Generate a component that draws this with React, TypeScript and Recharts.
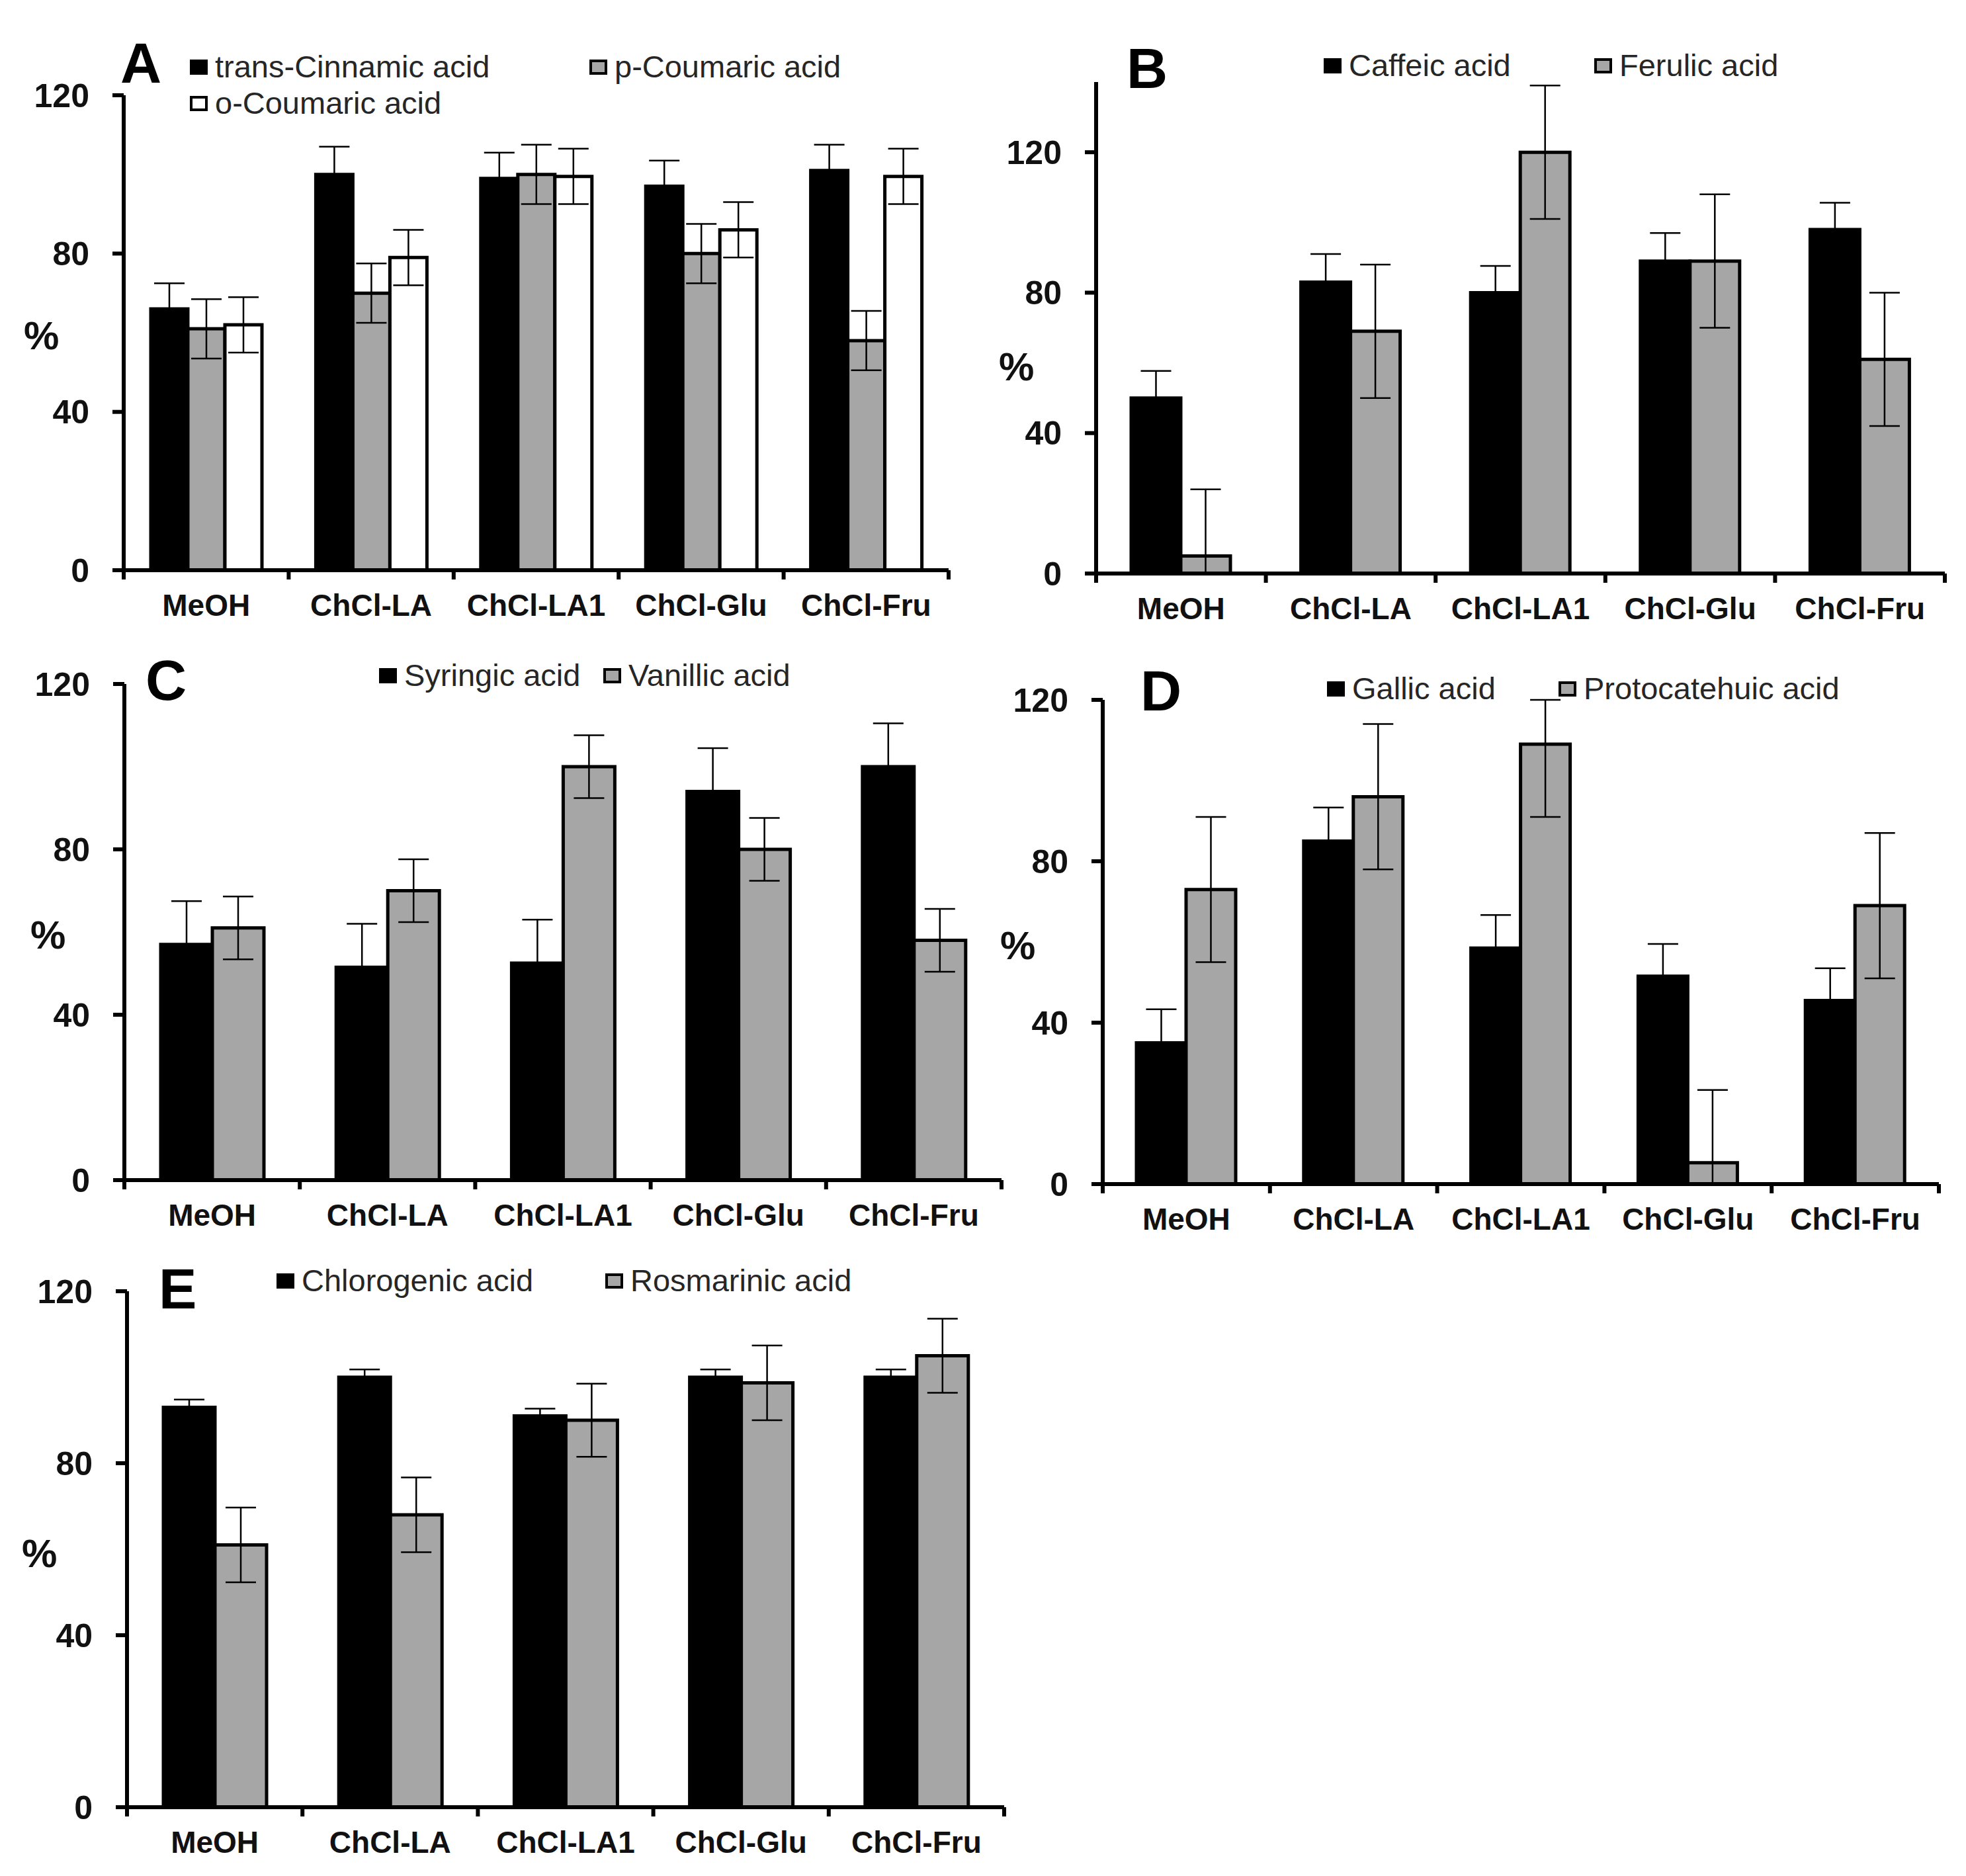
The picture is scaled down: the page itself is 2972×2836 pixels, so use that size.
import React from "react";
import { BarChart, Bar, XAxis, YAxis, ErrorBar, Legend } from "recharts";

const FONT = '"Liberation Sans", Arial, Helvetica, sans-serif';
const BLACK = "#000000";
const GREY = "#a6a6a6";
const WHITE = "#ffffff";

const categories = ["MeOH", "ChCl-LA", "ChCl-LA1", "ChCl-Glu", "ChCl-Fru"];
const yTicks = [0, 40, 80, 120];

// A
const transCinnamic = [66, 100, 99, 97, 101];
const transCinnamicErr = [6.5, 7, 6.5, 6.5, 6.5];
const pCoumaric = [61, 70, 100, 80, 58];
const pCoumaricErr = [7.5, 7.5, 7.5, 7.5, 7.5];
const oCoumaric = [62, 79, 99.5, 86, 99.5];
const oCoumaricErr = [7, 7, 7, 7, 7];

// B
const caffeic = [50, 83, 80, 89, 98];
const caffeicErr = [7.7, 8, 7.6, 8, 7.6];
const ferulic = [5, 69, 120, 89, 61];
const ferulicErr = [19, 19, 19, 19, 19];

// C
const syringic = [57, 51.5, 52.5, 94, 100];
const syringicErr = [10.5, 10.5, 10.5, 10.5, 10.5];
const vanillic = [61, 70, 100, 80, 58];
const vanillicErr = [7.6, 7.6, 7.6, 7.6, 7.6];

// D
const gallic = [35, 85, 58.5, 51.5, 45.5];
const gallicErr = [8.3, 8.3, 8.2, 8, 8];
const protocatechuic = [73, 96, 109, 5.3, 69];
const protocatechuicErr = [18, 18, 18, 18, 18];

// E
const chlorogenic = [93, 100, 91, 100, 100];
const chlorogenicErr = [1.8, 1.8, 1.7, 1.8, 1.8];
const rosmarinic = [61, 68, 90, 98.7, 105];
const rosmarinicErr = [8.7, 8.7, 8.5, 8.7, 8.6];

type Series = { name: string; values: number[]; errors: number[]; fill: string };
type Panel = {
  letter: string;
  series: Series[];
  yMax: number;
  box: { left: number; top: number; width: number; height: number };
  plot: { left: number; top: number; right: number; bottom: number };
  barSize: number;
  letterAt: [number, number];
  legendAt: [number, number][];
  percentAt: [number, number];
};

const X_AXIS_H = 60;
const AXIS_W = 6;

const panels: Panel[] = [
  {
    letter: "A",
    series: [
      { name: "trans-Cinnamic acid", values: transCinnamic, errors: transCinnamicErr, fill: BLACK },
      { name: "p-Coumaric acid", values: pCoumaric, errors: pCoumaricErr, fill: GREY },
      { name: "o-Coumaric acid", values: oCoumaric, errors: oCoumaricErr, fill: WHITE },
    ],
    yMax: 120,
    box: { left: 0, top: 0, width: 1470, height: 960 },
    plot: { left: 187, top: 144, right: 1434, bottom: 862 },
    barSize: 56,
    letterAt: [182, 52],
    legendAt: [[287, 78], [891, 78], [287, 133]],
    percentAt: [36, 506],
  },
  {
    letter: "B",
    series: [
      { name: "Caffeic acid", values: caffeic, errors: caffeicErr, fill: BLACK },
      { name: "Ferulic acid", values: ferulic, errors: ferulicErr, fill: GREY },
    ],
    yMax: 140,
    box: { left: 1480, top: 0, width: 1492, height: 960 },
    plot: { left: 1657, top: 124, right: 2940, bottom: 867 },
    barSize: 75,
    letterAt: [1703, 60],
    legendAt: [[2001, 76], [2410, 76]],
    percentAt: [1510, 553],
  },
  {
    letter: "C",
    series: [
      { name: "Syringic acid", values: syringic, errors: syringicErr, fill: BLACK },
      { name: "Vanillic acid", values: vanillic, errors: vanillicErr, fill: GREY },
    ],
    yMax: 120,
    box: { left: 0, top: 940, width: 1560, height: 950 },
    plot: { left: 188, top: 1034, right: 1514, bottom: 1784 },
    barSize: 78,
    letterAt: [220, 985],
    legendAt: [[573, 998], [912, 998]],
    percentAt: [46, 1412],
  },
  {
    letter: "D",
    series: [
      { name: "Gallic acid", values: gallic, errors: gallicErr, fill: BLACK },
      { name: "Protocatehuic acid", values: protocatechuic, errors: protocatechuicErr, fill: GREY },
    ],
    yMax: 120,
    box: { left: 1480, top: 940, width: 1492, height: 950 },
    plot: { left: 1667, top: 1058, right: 2931, bottom: 1790 },
    barSize: 75,
    letterAt: [1724, 1001],
    legendAt: [[2006, 1018], [2356, 1018]],
    percentAt: [1512, 1428],
  },
  {
    letter: "E",
    series: [
      { name: "Chlorogenic acid", values: chlorogenic, errors: chlorogenicErr, fill: BLACK },
      { name: "Rosmarinic acid", values: rosmarinic, errors: rosmarinicErr, fill: GREY },
    ],
    yMax: 120,
    box: { left: 0, top: 1860, width: 1560, height: 976 },
    plot: { left: 192, top: 1952, right: 1518, bottom: 2732 },
    barSize: 78,
    letterAt: [240, 1905],
    legendAt: [[418, 1913], [915, 1913]],
    percentAt: [33, 2347],
  },
];

function CategoryTick(props: any) {
  const { x, y, payload, index, visibleTicksCount } = props;
  const half = payload?.offset ?? 0;
  return (
    <g>
      <line x1={x - half} x2={x - half} y1={y} y2={y + 14} stroke="#000" strokeWidth={AXIS_W} />
      {index === visibleTicksCount - 1 ? (
        <line x1={x + half} x2={x + half} y1={y} y2={y + 14} stroke="#000" strokeWidth={AXIS_W} />
      ) : null}
      <text
        x={x}
        y={y + 36}
        dy="0.71em"
        textAnchor="middle"
        fontFamily={FONT}
        fontSize={46}
        fontWeight={700}
        fill="#111"
      >
        {payload.value}
      </text>
    </g>
  );
}

function PanelChart({ panel }: { panel: Panel }) {
  const { box, plot, series, yMax } = panel;
  // error whiskers are cut at the axis range, as the plot area clips them in the original
  const rows = categories.map((name, i) => {
    const row: Record<string, any> = { name };
    series.forEach((s, j) => {
      const v = s.values[i];
      const e = s.errors[i];
      row[`v${j}`] = v;
      row[`e${j}`] = [Math.min(e, v), Math.min(e, yMax - v)];
    });
    return row;
  });

  const legendContent = () => (
    <div style={{ position: "relative", width: box.width, height: box.height, fontFamily: FONT }}>
      <div
        style={{
          position: "absolute",
          left: panel.letterAt[0] - box.left,
          top: panel.letterAt[1] - box.top,
          fontSize: 86,
          fontWeight: 700,
          lineHeight: 1,
          color: "#000",
        }}
      >
        {panel.letter}
      </div>
      {series.map((s, i) => (
        <div
          key={s.name}
          style={{
            position: "absolute",
            left: panel.legendAt[i][0] - box.left,
            top: panel.legendAt[i][1] - box.top,
            display: "flex",
            alignItems: "center",
            height: 46,
            whiteSpace: "nowrap",
          }}
        >
          <span
            style={{
              display: "inline-block",
              width: 27,
              height: 23,
              boxSizing: "border-box",
              background: s.fill,
              border: "4px solid #000",
              marginRight: 11,
            }}
          />
          <span style={{ fontSize: 47, lineHeight: "46px", color: "#262626" }}>{s.name}</span>
        </div>
      ))}
    </div>
  );

  return (
    <div style={{ position: "absolute", left: box.left, top: box.top }}>
      <BarChart
        width={box.width}
        height={box.height}
        data={rows}
        barGap={0}
        margin={{
          top: plot.top - box.top,
          right: box.left + box.width - plot.right,
          bottom: box.top + box.height - plot.bottom - X_AXIS_H,
          left: 0,
        }}
      >
        <XAxis
          dataKey="name"
          height={X_AXIS_H}
          interval={0}
          tickLine={false}
          tickSize={0}
          tickMargin={0}
          axisLine={{ stroke: "#000", strokeWidth: AXIS_W }}
          tick={<CategoryTick />}
        />
        <YAxis
          width={plot.left - box.left}
          domain={[0, yMax]}
          ticks={yTicks}
          interval={0}
          allowDataOverflow
          tickSize={17}
          tickMargin={35}
          axisLine={{ stroke: "#000", strokeWidth: AXIS_W }}
          tickLine={{ stroke: "#000", strokeWidth: AXIS_W }}
          tick={{ fontFamily: FONT, fontSize: 50, fontWeight: 700, fill: "#111" }}
          label={{
            content: () => (
              <text
                x={panel.percentAt[0] - box.left}
                y={panel.percentAt[1] - box.top}
                dy="0.36em"
                fontFamily={FONT}
                fontSize={60}
                fontWeight={700}
                fill="#111"
              >
                %
              </text>
            ),
          }}
        />
        {series.map((s, j) => (
          <Bar
            key={s.name}
            dataKey={`v${j}`}
            name={s.name}
            fill={s.fill}
            stroke="#000"
            strokeWidth={5}
            barSize={panel.barSize}
            isAnimationActive={false}
          >
            <ErrorBar
              dataKey={`e${j}`}
              direction="y"
              width={23}
              stroke="#000"
              strokeWidth={2.5}
              isAnimationActive={false}
            />
          </Bar>
        ))}
        <Legend
          layout="horizontal"
          verticalAlign="middle"
          align="center"
          content={legendContent}
          wrapperStyle={{ left: 0, top: 0, width: box.width, height: box.height, pointerEvents: "none" }}
        />
      </BarChart>
    </div>
  );
}

export default function App() {
  return (
    <div
      style={{
        position: "absolute",
        left: 0,
        top: 0,
        width: 2972,
        height: 2836,
        background: "#fff",
        overflow: "hidden",
      }}
    >
      {panels.map((p) => (
        <PanelChart key={p.letter} panel={p} />
      ))}
    </div>
  );
}
